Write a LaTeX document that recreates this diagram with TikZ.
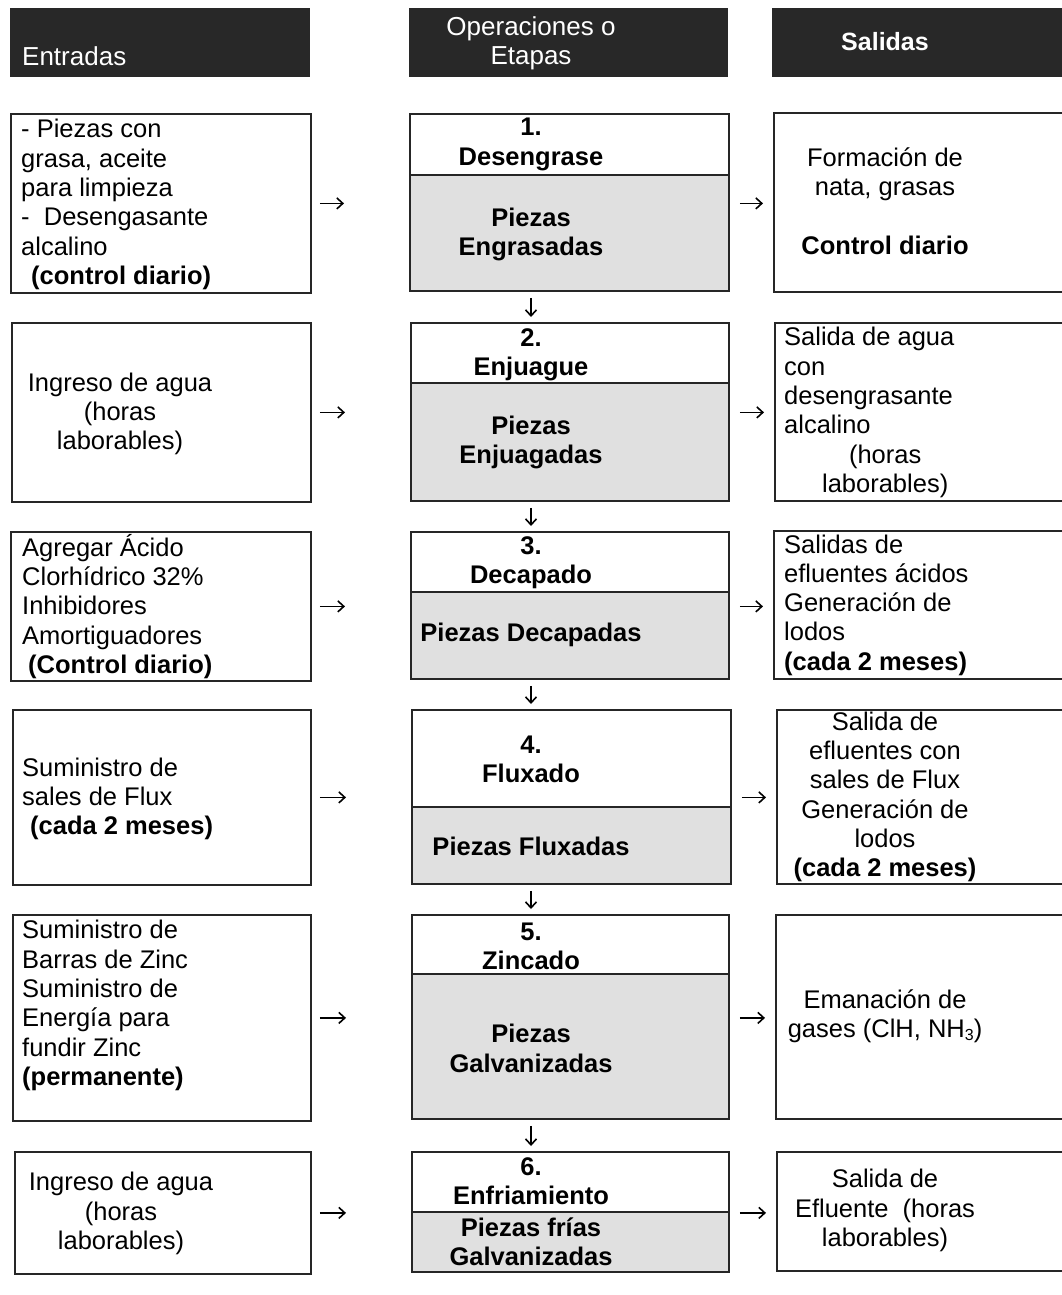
\documentclass[tikz,border=0pt]{standalone}
\usepackage{fontspec}
\setmainfont{Liberation Sans}
\usetikzlibrary{arrows.meta}
\definecolor{headgray}{HTML}{282828}
\definecolor{stepgray}{HTML}{E0E0E0}
\newcommand\diagfont{\fontsize{25.5}{29.3}\selectfont}

\begin{document}
\begin{tikzpicture}[x=1pt, y=-1pt,
  box/.style={draw=black!85, line width=1.8pt, anchor=north west, inner sep=0pt},
  opbot/.style={box, fill=stepgray},
  head/.style={fill=headgray, anchor=north west, inner sep=0pt},
  htxt/.style={text=white, font=\fontsize{26}{29}\selectfont, align=center, inner sep=0pt},
  txt/.style={font=\diagfont, align=center, inner sep=0pt},
  ltxt/.style={txt, align=left, anchor=west},
  otxt/.style={txt, font=\diagfont\bfseries},
  flow/.style={-{Straight Barb[length=6pt,width=11pt]}, line width=1.6pt, shorten <=8pt, shorten >=65pt},
  flowr/.style={flow, shorten <=10pt, shorten >=10pt},
  flowd/.style={flow, shorten <=6pt, shorten >=5pt}
]
\useasboundingbox (0,0) rectangle (1062,1295);

\node[head, minimum width=300pt, minimum height=69pt] (hin) at (10,8) {};
\node[head, minimum width=319pt, minimum height=69pt] (hop) at (409,8) {};
\node[head, minimum width=310pt, minimum height=69pt] (hout) at (772,8) {};
\node[htxt, anchor=west] (hint) at (22,56) {Entradas};
\node[htxt] (hopt) at (531,43.5) {Operaciones o\\Etapas};
\node[htxt, font=\fontsize{25}{29}\selectfont\bfseries] (houtt) at (885,42) {Salidas};

\node[box, minimum width=300pt, minimum height=179pt] (in1) at (10,113) {};
\node[box, minimum width=319pt, minimum height=61pt] (op1a) at (409,113) {};
\node[opbot, minimum width=319pt, minimum height=116pt] (op1b) at (409,174) {};
\node[box, minimum width=310pt, minimum height=179pt] (out1) at (773,112) {};
\node[ltxt] (in1t) at (21,204.5) {- Piezas con\\grasa, aceite\\para limpieza\\-~ Desengasante\\alcalino\\\hspace*{10pt}\textbf{(control diario)}};
\node[otxt] (op1at) at (531,144.5) {1.\\Desengrase};
\node[otxt] (op1bt) at (531,234.5) {Piezas\\Engrasadas};
\node[txt] (out1t) at (885,201) {Formación de\\nata, grasas\\[29.3pt]\textbf{Control diario}};

\node[box, minimum width=299pt, minimum height=179pt] (in2) at (11,322) {};
\node[box, minimum width=318pt, minimum height=60pt] (op2a) at (410,322) {};
\node[opbot, minimum width=318pt, minimum height=118pt] (op2b) at (410,382) {};
\node[box, minimum width=310pt, minimum height=178pt] (out2) at (774,322) {};
\node[txt] (in2t) at (120,414) {Ingreso de agua\\(horas\\laborables)};
\node[otxt] (op2at) at (531,354.5) {2.\\Enjuague};
\node[otxt] (op2bt) at (531,442.5) {Piezas\\Enjuagadas};
\node[ltxt] (out2t) at (784,412.5) {Salida de agua\\con\\desengrasante\\alcalino\\\makebox[202pt]{(horas}\\\makebox[202pt]{laborables)}};

\node[box, minimum width=300pt, minimum height=149pt] (in3) at (10,531) {};
\node[box, minimum width=318pt, minimum height=60pt] (op3a) at (410,531) {};
\node[opbot, minimum width=318pt, minimum height=87pt] (op3b) at (410,591) {};
\node[box, minimum width=310pt, minimum height=148pt] (out3) at (773,530) {};
\node[ltxt] (in3t) at (22,606.5) {Agregar Ácido\\Clorhídrico 32\%\\Inhibidores\\Amortiguadores\\\hspace*{6pt}\textbf{(Control diario)}};
\node[otxt] (op3at) at (531,562.5) {3.\\Decapado};
\node[otxt] (op3bt) at (531,635) {Piezas Decapadas};
\node[ltxt] (out3t) at (784,605) {Salidas de\\efluentes ácidos\\Generación de\\lodos\\\textbf{(cada 2 meses)}};

\node[box, minimum width=298pt, minimum height=175pt] (in4) at (12,709) {};
\node[box, minimum width=319pt, minimum height=97pt] (op4a) at (411,709) {};
\node[opbot, minimum width=319pt, minimum height=77pt] (op4b) at (411,806) {};
\node[box, minimum width=310pt, minimum height=174pt] (out4) at (776,709) {};
\node[ltxt] (in4t) at (22,799) {Suministro de\\sales de Flux\\\hspace*{8pt}\textbf{(cada 2 meses)}};
\node[otxt] (op4at) at (531,759.5) {4.\\Fluxado};
\node[otxt] (op4bt) at (531,846) {Piezas Fluxadas};
\node[txt] (out4t) at (885,797) {Salida de\\efluentes con\\sales de Flux\\Generación de\\lodos\\\textbf{(cada 2 meses)}};

\node[box, minimum width=298pt, minimum height=206pt] (in5) at (12,914) {};
\node[box, minimum width=317pt, minimum height=59pt] (op5a) at (411,914) {};
\node[opbot, minimum width=317pt, minimum height=145pt] (op5b) at (411,973) {};
\node[box, minimum width=310pt, minimum height=204pt] (out5) at (775,914) {};
\node[ltxt] (in5t) at (22,1005.5) {Suministro de\\Barras de Zinc\\Suministro de\\Energía para\\fundir Zinc\\\textbf{(permanente)}};
\node[otxt] (op5at) at (531,946.5) {5.\\Zincado};
\node[otxt] (op5bt) at (531,1048.5) {Piezas\\Galvanizadas};
\node[txt] (out5t) at (885,1016.5) {Emanación de\\gases (ClH, NH\raisebox{-3pt}{\fontsize{16}{16}\selectfont 3})};

\node[box, minimum width=296pt, minimum height=122pt] (in6) at (14,1151) {};
\node[box, minimum width=317pt, minimum height=60pt] (op6a) at (411,1151) {};
\node[opbot, minimum width=317pt, minimum height=60pt] (op6b) at (411,1211) {};
\node[box, minimum width=310pt, minimum height=119pt] (out6) at (776,1151) {};
\node[txt] (in6t) at (121,1213.5) {Ingreso de agua\\(horas\\laborables)};
\node[otxt] (op6at) at (531,1181.5) {6.\\Enfriamiento};
\node[otxt] (op6bt) at (531,1241.5) {Piezas frías\\Galvanizadas};
\node[txt] (out6t) at (885,1210.5) {Salida de\\Efluente~ (horas\\laborables)};

\draw[flow] (in1.east) -- (in1.east -| op1b.west);
\draw[flowr] (in1.east -| op1b.east) -- (in1.east -| out1.west);
\draw[flow] (in2.east) -- (in2.east -| op2b.west);
\draw[flowr] (in2.east -| op2b.east) -- (in2.east -| out2.west);
\draw[flow] (in3.east) -- (in3.east -| op3b.west);
\draw[flowr] (in3.east -| op3b.east) -- (in3.east -| out3.west);
\draw[flow] (in4.east) -- (in4.east -| op4b.west);
\draw[flowr] (in4.east -| op4b.east) -- (in4.east -| out4.west);
\draw[flow] (in5.east) -- (in5.east -| op5b.west);
\draw[flowr] (in5.east -| op5b.east) -- (in5.east -| out5.west);
\draw[flow] (in6.east) -- (in6.east -| op6b.west);
\draw[flowr] (in6.east -| op6b.east) -- (in6.east -| out6.west);

\draw[flowd] (op1b.south -| op1bt) -- (op2a.north -| op1bt);
\draw[flowd] (op2b.south -| op2bt) -- (op3a.north -| op2bt);
\draw[flowd] (op3b.south -| op3bt) -- (op4a.north -| op3bt);
\draw[flowd] (op4b.south -| op4bt) -- (op5a.north -| op4bt);
\draw[flowd] (op5b.south -| op5bt) -- (op6a.north -| op5bt);

\end{tikzpicture}
\end{document}
